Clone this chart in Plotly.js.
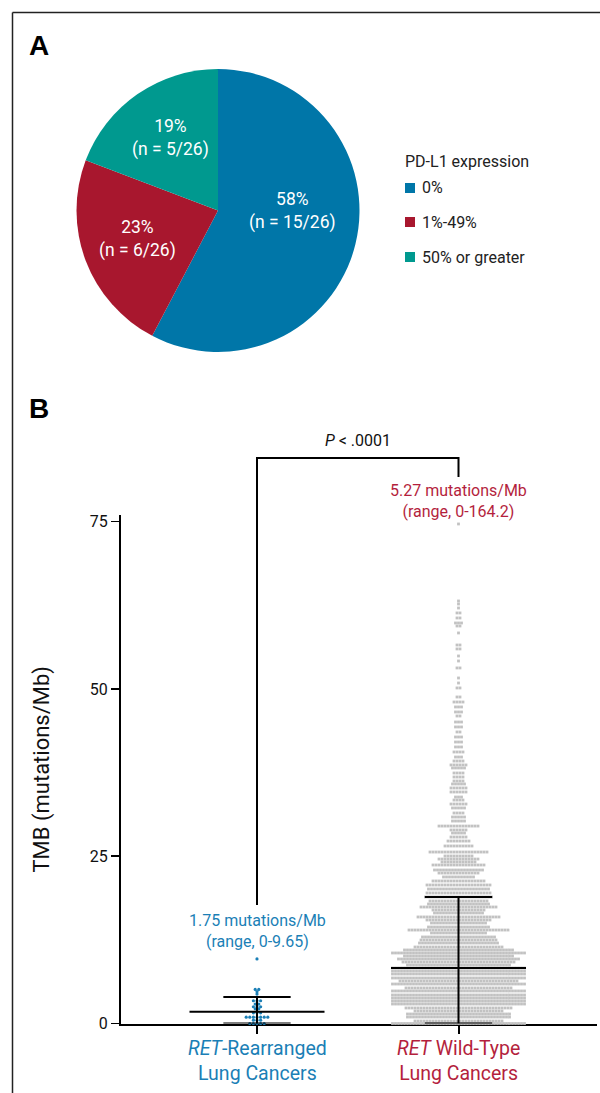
<!DOCTYPE html>
<html><head><meta charset="utf-8">
<script src="https://cdn.plot.ly/plotly-3.0.1.min.js"></script>
<style>html,body{margin:0;padding:0;background:#fff}#chart{width:600px;height:1093px}</style>
</head><body><div id="chart"></div>
<script>
// ---------- Panel A data ----------
const pdl1Labels = ['0%', '1%-49%', '50% or greater'];
const pdl1Counts = [15, 6, 5];
const pdl1Total = 26;
const pdl1Colors = ['#0076a8', '#a8172e', '#00998f'];

// ---------- Panel B data ----------
const groupLabels = ['<i>RET</i>-Rearranged<br>Lung Cancers', '<i>RET</i> Wild-Type<br>Lung Cancers'];
const groupColors = ['#1b7fb6', '#b41f3d'];
const groupCenter = [1.75, 8.3];
const groupUpper = [3.96, 18.9];
const groupLower = [0, 0];
const groupSummary = ['1.75 mutations/Mb<br>(range, 0-9.65)', '5.27 mutations/Mb<br>(range, 0-164.2)'];
const pValueText = '<i>P</i> < .0001';
const yTicks = [0, 25, 50, 75];

// RET-rearranged: TMB rows and number of patients in each row
const retRowValues = [9.65, 5.1, 4.75, 4.4, 3.4, 2.9, 2.5, 2.2, 1.6, 0.95, 0.5, 0];
const retRowCounts = [1, 2, 1, 1, 3, 2, 3, 2, 3, 7, 3, 5];

// RET wild-type: TMB rows and number of patients in each row
const wtRowValues = [74.66, 63.15, 62.70, 62.10, 61.36, 60.61, 59.86, 59.41, 58.37, 56.57, 55.98, 54.93, 54.18,
  53.14, 51.64, 50.89, 50.15, 48.80, 48.05, 47.31, 46.56, 45.96, 45.06, 44.32, 43.57, 42.82, 42.07, 41.33,
  40.58, 39.83, 39.23, 38.64, 38.19, 37.44, 36.84, 36.24, 35.80, 35.20, 34.60, 33.85, 33.40, 32.80, 32.21,
  31.46, 30.86, 30.26, 29.51, 28.92, 28.47, 27.87, 27.27, 26.53, 25.63, 25.03, 24.58, 24.14, 23.69, 22.94,
  22.49, 21.90, 21.30, 20.70, 20.10, 19.51, 18.91, 18.31, 17.86, 17.41, 16.96, 16.52, 15.92, 15.47, 15.02,
  14.42, 13.97, 13.53, 12.93, 12.48, 12.03, 11.43, 10.99, 10.54, 10.09, 9.64, 9.19, 8.74, 8.30, 7.85, 7.40,
  6.80, 6.35, 5.90, 5.31, 4.86, 4.26, 3.81, 3.36, 2.91, 2.32, 1.87, 1.42, 0.97, 0.37, 0];
const wtRowCounts = [1, 1, 1, 1, 2, 2, 3, 2, 1, 2, 2, 1, 1,
  2, 1, 1, 2, 2, 4, 3, 3, 2, 3, 3, 2, 3, 3, 3,
  4, 3, 4, 6, 5, 4, 4, 4, 5, 6, 6, 3, 4, 6, 5,
  4, 5, 5, 14, 6, 5, 6, 8, 10, 20, 10, 14, 12, 18, 17,
  14, 11, 18, 22, 21, 22, 23, 20, 21, 26, 18, 17, 28, 22, 19,
  21, 34, 19, 25, 26, 27, 30, 37, 45, 37, 41, 38, 35, 45, 45, 45,
  45, 40, 45, 36, 45, 45, 45, 45, 45, 36, 30, 35, 35, 30, 45];

// ---------- geometry helpers (layout only) ----------
const W = 600, H = 1093;
const px = x => x / W;
const py = y => 1 - y / H;
const xUnitPx = 201.5;

function swarm(center, values, counts, spacingPx) {
  const xs = [], ys = [];
  const d = spacingPx / xUnitPx;
  values.forEach((v, r) => {
    const n = counts[r];
    for (let i = 0; i < n; i++) { xs.push(center + (i - (n - 1) / 2) * d); ys.push(v); }
  });
  return {xs, ys};
}
const wt = swarm(1, wtRowValues, wtRowCounts, 3);
const ret = swarm(0, retRowValues, retRowCounts, 3.6);

// error bars (mean line, SD caps, stems)
const ebx = [], eby = [];
[0, 1].forEach(g => {
  ebx.push(g - 0.335, g + 0.335, null); eby.push(groupCenter[g], groupCenter[g], null);
  ebx.push(g - 0.167, g + 0.167, null); eby.push(groupUpper[g], groupUpper[g], null);
  ebx.push(g - 0.167, g + 0.167, null); eby.push(groupLower[g], groupLower[g], null);
  ebx.push(g, g, null); eby.push(groupLower[g], groupUpper[g], null);
});

const traces = [
  {type: 'pie', values: pdl1Counts, labels: pdl1Labels, marker: {colors: pdl1Colors, line: {width: 0}},
   sort: false, direction: 'clockwise', rotation: 0, textinfo: 'none', hoverinfo: 'none', showlegend: false,
   domain: {x: [px(74), px(362)], y: [py(352), py(69)]}},
  {type: 'scatter', mode: 'markers', x: wt.xs, y: wt.ys, cliponaxis: false, hoverinfo: 'none',
   marker: {symbol: 'square', size: 2.8, color: '#c2c2c2'}},
  {type: 'scatter', mode: 'markers', x: ret.xs, y: ret.ys, cliponaxis: false, hoverinfo: 'none',
   marker: {symbol: 'circle', size: 3.2, color: groupColors[0]}},
  {type: 'scatter', mode: 'lines', x: ebx, y: eby, cliponaxis: false, hoverinfo: 'none',
   line: {color: '#000', width: 2}}
];

// pie labels
const pieLabelPos = [[292, 211], [137, 239], [170, 138]];
const annotations = pdl1Counts.map((c, i) => ({
  xref: 'paper', yref: 'paper', x: px(pieLabelPos[i][0]), y: py(pieLabelPos[i][1]),
  text: Math.round(100 * c / pdl1Total) + '%<br>(n = ' + c + '/' + pdl1Total + ')',
  showarrow: false, font: {size: 17.5, color: '#fff'}, xanchor: 'center', yanchor: 'middle'
}));
// legend (manual)
const legendY = [188, 222, 257];
const shapes = [];
annotations.push({xref: 'paper', yref: 'paper', x: px(403), y: py(161), text: 'PD-L1 expression',
  showarrow: false, xanchor: 'left', yanchor: 'middle', font: {size: 16, color: '#222'}});
pdl1Labels.forEach((l, i) => {
  shapes.push({type: 'rect', xref: 'paper', yref: 'paper', x0: px(405), x1: px(415),
    y0: py(legendY[i] + 5), y1: py(legendY[i] - 5), fillcolor: pdl1Colors[i], line: {width: 0}});
  annotations.push({xref: 'paper', yref: 'paper', x: px(420), y: py(legendY[i]), text: l,
    showarrow: false, xanchor: 'left', yanchor: 'middle', font: {size: 16, color: '#222'}});
});
// panel letters
annotations.push({xref: 'paper', yref: 'paper', x: px(27), y: py(46), text: '<b>A</b>', showarrow: false,
  xanchor: 'left', yanchor: 'middle', font: {family: 'Liberation Sans, Arial', size: 28, color: '#000'}});
annotations.push({xref: 'paper', yref: 'paper', x: px(27), y: py(408), text: '<b>B</b>', showarrow: false,
  xanchor: 'left', yanchor: 'middle', font: {family: 'Liberation Sans, Arial', size: 28, color: '#000'}});
// P value & summaries & category labels
annotations.push({xref: 'x', yref: 'paper', x: 0.5, y: py(440), text: pValueText, showarrow: false,
  xanchor: 'center', yanchor: 'middle', font: {size: 16, color: '#111'}});
const summaryY = [931, 501];
[0, 1].forEach(g => {
  annotations.push({xref: 'x', yref: 'paper', x: g, y: py(summaryY[g]), text: groupSummary[g], showarrow: false,
    xanchor: 'center', yanchor: 'middle', font: {size: 16, color: groupColors[g]}});
  annotations.push({xref: 'x', yref: 'paper', x: g, y: py(1061), text: groupLabels[g], showarrow: false,
    xanchor: 'center', yanchor: 'middle', font: {size: 19.5, color: groupColors[g]}});
});

// frame and bracket
shapes.push({type: 'line', xref: 'paper', yref: 'paper', x0: px(12.5), x1: 1, y0: py(12.5), y1: py(12.5),
  line: {color: '#222', width: 1.5}});
shapes.push({type: 'line', xref: 'paper', yref: 'paper', x0: px(12.5), x1: px(12.5), y0: py(12.5), y1: 0,
  line: {color: '#222', width: 1.5}});
shapes.push({type: 'path', xref: 'x', yref: 'paper',
  path: 'M 0,' + py(905) + ' L 0,' + py(458) + ' L 1,' + py(458) + ' L 1,' + py(477),
  line: {color: '#000', width: 2}});

const layout = {
  width: W, height: H, margin: {l: 0, r: 0, t: 0, b: 0},
  paper_bgcolor: '#fff', plot_bgcolor: '#fff', showlegend: false,
  font: {family: 'Roboto, Liberation Sans, sans-serif', color: '#111'},
  xaxis: {domain: [px(121), px(597)], range: [(121 - 257) / xUnitPx, (597 - 257) / xUnitPx],
    showgrid: false, zeroline: false, showline: true, linecolor: '#000', linewidth: 2, layer: 'below traces',
    tickvals: [0, 1], ticks: 'outside', ticklen: 8, tickwidth: 2, tickcolor: '#000', showticklabels: false, fixedrange: true},
  yaxis: {domain: [py(1023.5), py(515)], range: [0, 76], showgrid: false, zeroline: false,
    showline: true, linecolor: '#000', linewidth: 2, tickvals: yTicks, ticks: 'outside', ticklen: 8,
    tickwidth: 1.5, tickcolor: '#000', tickfont: {size: 16, color: '#111'},
    title: {text: 'TMB (mutations/Mb)', font: {size: 22, color: '#111'}, standoff: 34}, fixedrange: true},
  shapes: shapes, annotations: annotations
};
Plotly.newPlot('chart', traces, layout, {displayModeBar: false, staticPlot: true});
</script></body></html>
